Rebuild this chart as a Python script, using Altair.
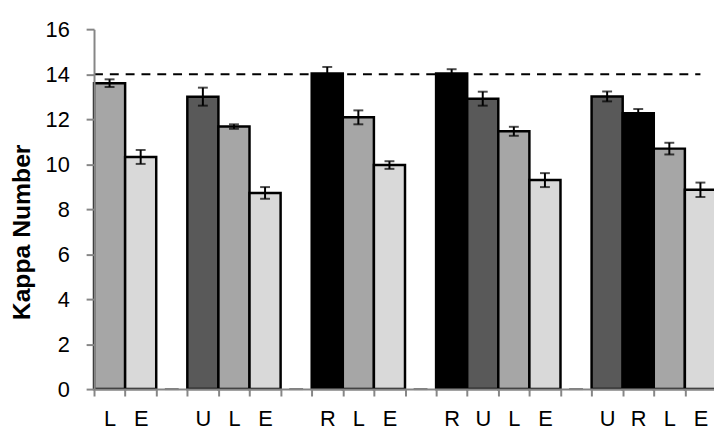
import altair as alt
import pandas as pd

# slot ids (one per band on the x axis), their printed letters, bar type, values, errors
slots = ["aL", "aE", "a_", "bU", "bL", "bE", "b_", "cR", "cL", "cE", "c_",
         "dR", "dU", "dL", "dE", "d_", "eU", "eR", "eL", "eE"]
letters = ["L", "E", "", "U", "L", "E", "", "R", "L", "E", "",
           "R", "U", "L", "E", "", "U", "R", "L", "E"]
values = [13.60, 10.32, 0, 13.00, 11.67, 8.72, 0, 14.03, 12.08, 9.96, 0,
          14.03, 12.91, 11.46, 9.29, 0, 13.01, 12.26, 10.69, 8.86]
errors = [0.17, 0.31, 0, 0.40, 0.10, 0.26, 0, 0.29, 0.31, 0.17, 0,
          0.19, 0.31, 0.20, 0.31, 0, 0.22, 0.19, 0.26, 0.32]
reference_value = 14
y_ticks = [0, 2, 4, 6, 8, 10, 12, 14, 16]

type_order = ["R", "U", "L", "E"]
type_colors = ["#000000", "#595959", "#a6a6a6", "#d9d9d9"]

df = pd.DataFrame({"slot": slots, "letter": letters, "value": values, "err": errors})
df["lo"] = df["value"] - df["err"]
df["hi"] = df["value"] + df["err"]
bars_df = df[df["letter"] != ""]
gaps_df = df[df["letter"] == ""]
# reference line: from the left edge of the first slot to the centre of the last slot (slot units)
ref_df = pd.DataFrame({"x1": [0.0], "x2": [len(slots) - 0.5], "y": [reference_value]})

FONT = "Liberation Sans"
AX = "#868686"
RANGE = [0, 629]

xscale = alt.Scale(domain=slots, range=RANGE, paddingInner=0, paddingOuter=0)
yscale = alt.Scale(domain=[0, 16], nice=False)

label_map = "{" + ",".join(f"'{s}':'{l}'" for s, l in zip(slots, letters)) + "}"

xaxis = alt.Axis(
    labelExpr=f"{label_map}[datum.value]",
    tickBand="extent", labelAngle=0, tickSize=7, labelPadding=13,
    domainColor=AX, tickColor=AX, domainWidth=2, tickWidth=2,
    labelFont=FONT, labelFontSize=22, labelColor="black", title=None, zindex=1,
)
yaxis = alt.Axis(
    values=y_ticks, tickSize=8, labelPadding=17, grid=False,
    domainColor=AX, tickColor=AX, domainWidth=2, tickWidth=2,
    labelFont=FONT, labelFontSize=22, labelColor="black",
    title="Kappa Number", titleFont=FONT, titleFontSize=25, titleFontWeight="bold",
    titleColor="black", titleAngle=270, titleX=-65, titleY=205,
    titleAlign="center", titleBaseline="alphabetic", zindex=1,
)

bars = alt.Chart(bars_df).mark_bar(stroke="black", strokeWidth=2.5).encode(
    x=alt.X("slot:N", scale=xscale, axis=xaxis, sort=slots),
    y=alt.Y("value:Q", scale=yscale, axis=yaxis),
    fill=alt.Fill("letter:N", scale=alt.Scale(domain=type_order, range=type_colors), legend=None),
)

err_rule = alt.Chart(bars_df).mark_rule(color="black", strokeWidth=2).encode(
    x=alt.X("slot:N", sort=slots), y="lo:Q", y2="hi:Q",
)
cap_lo = alt.Chart(bars_df).mark_tick(color="black", size=10, thickness=2).encode(
    x=alt.X("slot:N", sort=slots), y="lo:Q",
)
cap_hi = alt.Chart(bars_df).mark_tick(color="black", size=10, thickness=2).encode(
    x=alt.X("slot:N", sort=slots), y="hi:Q",
)
gap_marks = alt.Chart(gaps_df).mark_tick(color="#333333", size=14, thickness=2).encode(
    x=alt.X("slot:N", sort=slots), y="value:Q",
)
base = alt.layer(bars, err_rule, cap_lo, cap_hi, gap_marks)

ref_line = alt.Chart(ref_df).mark_rule(color="black", strokeWidth=2, strokeDash=[9, 7]).encode(
    x=alt.X("x1:Q", scale=alt.Scale(domain=[0, len(slots)], range=RANGE, nice=False, zero=False), axis=None),
    x2="x2:Q",
    y=alt.Y("y:Q", scale=yscale),
)

chart = alt.layer(base, ref_line).resolve_scale(x="independent").properties(
    width=627, height=364,
    autosize=alt.AutoSizeParams(type="none"),
    padding={"left": 87, "top": 19, "right": 0, "bottom": 42},
).configure_view(stroke=None)

chart.save("out.html", embed_options={"renderer": "svg", "actions": False})
